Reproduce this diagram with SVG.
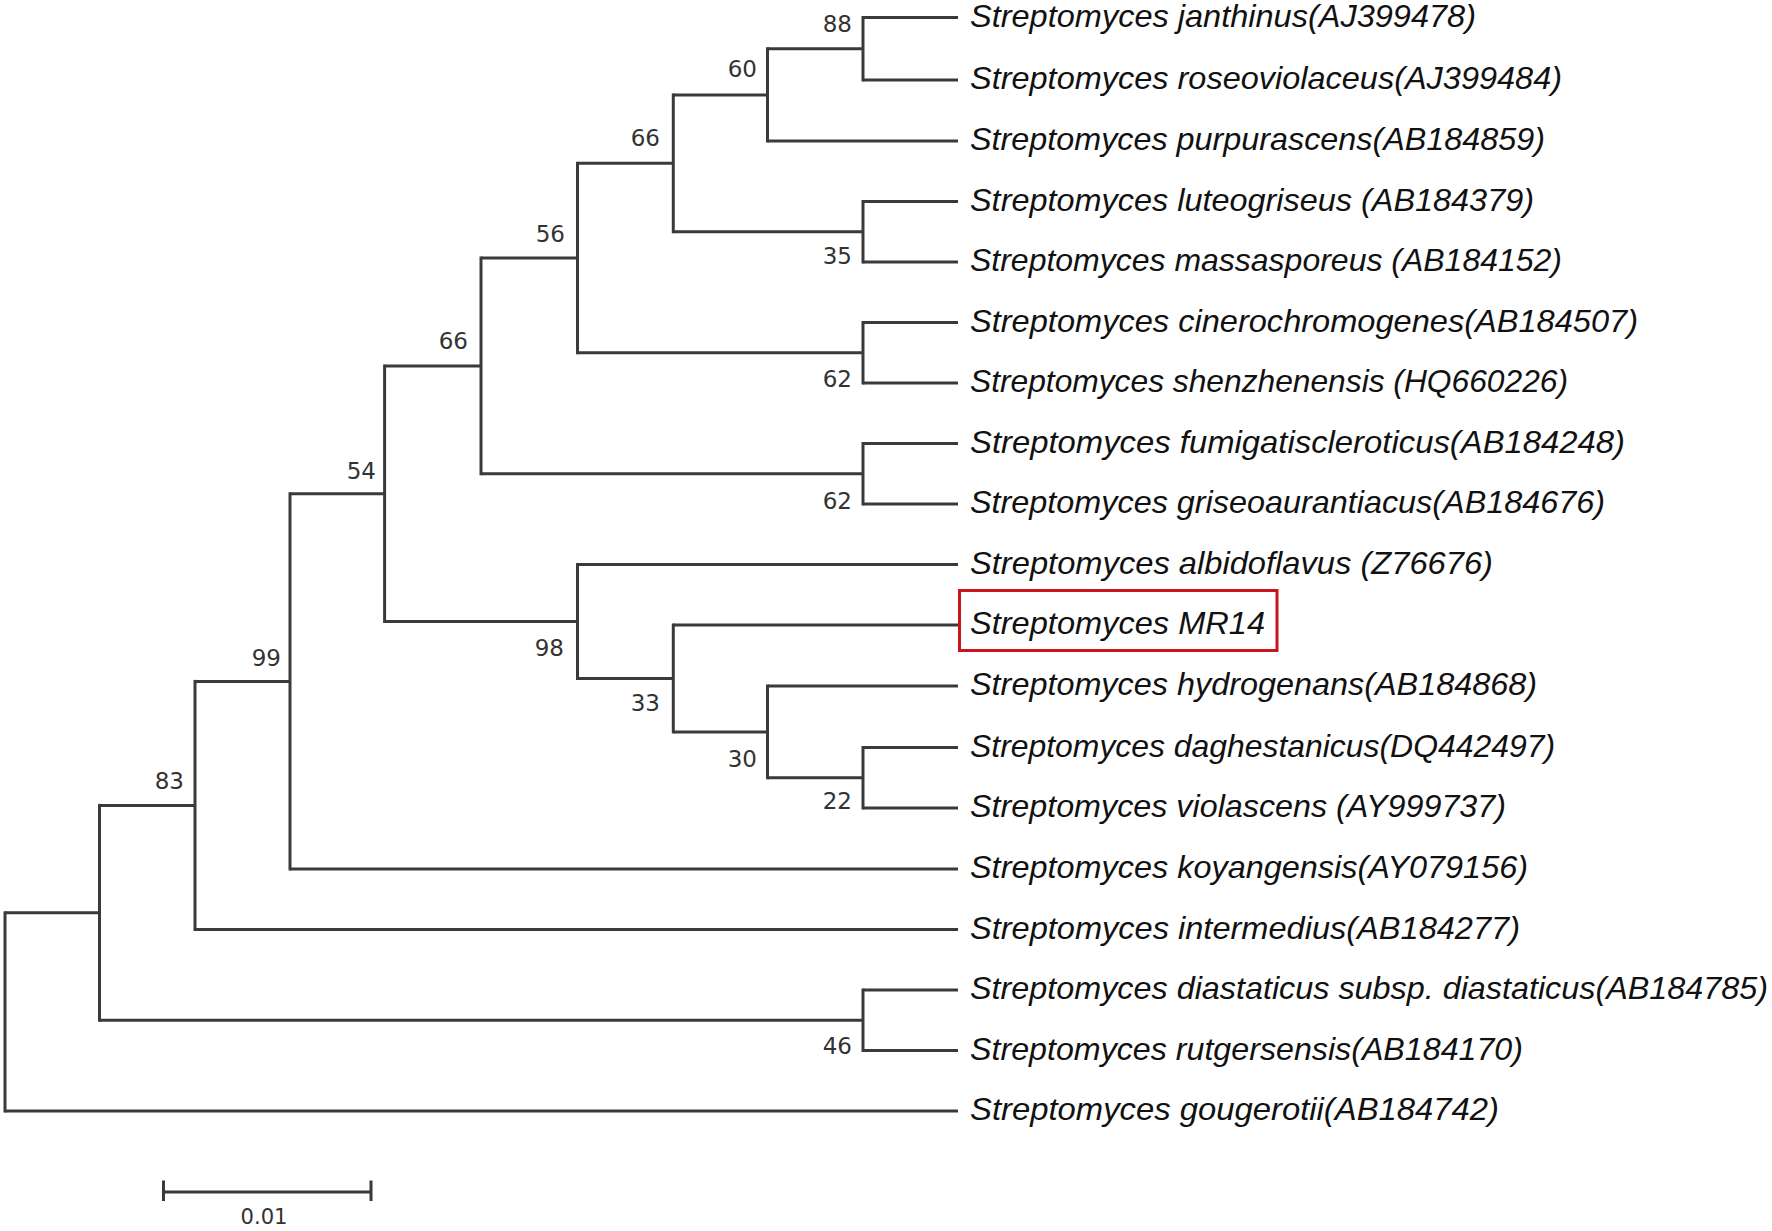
<svg xmlns="http://www.w3.org/2000/svg" width="1772" height="1231" viewBox="0 0 1772 1231">
<style>
.br{stroke:#3a3a3a;stroke-width:3;fill:none;stroke-linecap:butt}
.vb{stroke:#3a3a3a;stroke-width:3;fill:none;stroke-linecap:square}
.leaf{font-family:"Liberation Sans",Arial,sans-serif;font-style:italic;font-size:32px;fill:#111}
.bs{font-family:"DejaVu Sans",Verdana,sans-serif;font-size:23px;fill:#333;text-anchor:end}
</style>
<rect width="1772" height="1231" fill="#fff"/>
<g id="connectors">
<path class="br" d="M863 17.5H958M863 80H958M767.5 141H958M863 201.5H958M863 262H958M863 322.5H958M863 383H958M863 443.5H958M863 504H958M577.5 564.5H958M673.3 625H958M767.5 686H958M863 747.5H958M863 808H958M290 869H958M195 929.5H958M863 990H958M863 1050.5H958M5 1111H958"/>
<path class="br" d="M767.5 48.75H863M673.3 94.9H767.5M673.3 231.75H863M577.5 163.3H673.3M577.5 352.75H863M481 258H577.5M481 473.75H863M384.6 365.9H481M767.5 777.75H863M673.3 731.9H767.5M577.5 678.5H673.3M384.6 621.5H577.5M290 493.7H384.6M195 681.4H290M99.5 805.4H195M99.5 1020.25H863M5 912.8H99.5"/>
</g>
<g id="n88"><path class="vb" d="M863 17.5V80"/><text class="bs" x="852" y="32">88</text></g>
<g id="n60"><path class="vb" d="M767.5 48.75V141"/><text class="bs" x="757" y="77">60</text></g>
<g id="n35"><path class="vb" d="M863 201.5V262"/><text class="bs" x="852" y="264">35</text></g>
<g id="n66a"><path class="vb" d="M673.3 94.9V231.75"/><text class="bs" x="660" y="146">66</text></g>
<g id="n62a"><path class="vb" d="M863 322.5V383"/><text class="bs" x="852" y="387">62</text></g>
<g id="n56"><path class="vb" d="M577.5 163.3V352.75"/><text class="bs" x="565" y="242">56</text></g>
<g id="n62b"><path class="vb" d="M863 443.5V504"/><text class="bs" x="852" y="509">62</text></g>
<g id="n66b"><path class="vb" d="M481 258V473.75"/><text class="bs" x="468" y="349">66</text></g>
<g id="n22"><path class="vb" d="M863 747.5V808"/><text class="bs" x="852" y="809">22</text></g>
<g id="n30"><path class="vb" d="M767.5 686V777.75"/><text class="bs" x="757" y="767">30</text></g>
<g id="n33"><path class="vb" d="M673.3 625V731.9"/><text class="bs" x="660" y="711">33</text></g>
<g id="n98"><path class="vb" d="M577.5 564.5V678.5"/><text class="bs" x="564" y="656">98</text></g>
<g id="n54"><path class="vb" d="M384.6 365.9V621.5"/><text class="bs" x="376" y="479">54</text></g>
<g id="n99"><path class="vb" d="M290 493.7V869"/><text class="bs" x="281" y="666">99</text></g>
<g id="n83"><path class="vb" d="M195 681.4V929.5"/><text class="bs" x="184" y="789">83</text></g>
<g id="n46"><path class="vb" d="M863 990V1050.5"/><text class="bs" x="852" y="1054">46</text></g>
<g id="nr1"><path class="vb" d="M99.5 805.4V1020.25"/></g>
<g id="root"><path class="vb" d="M5 912.8V1111"/></g>
<g id="leaf1"><text class="leaf" x="970" y="26.5" textLength="506" lengthAdjust="spacingAndGlyphs">Streptomyces janthinus(AJ399478)</text></g>
<g id="leaf2"><text class="leaf" x="970" y="89" textLength="592" lengthAdjust="spacingAndGlyphs">Streptomyces roseoviolaceus(AJ399484)</text></g>
<g id="leaf3"><text class="leaf" x="970" y="150" textLength="575" lengthAdjust="spacingAndGlyphs">Streptomyces purpurascens(AB184859)</text></g>
<g id="leaf4"><text class="leaf" x="970" y="210.5" textLength="564" lengthAdjust="spacingAndGlyphs">Streptomyces luteogriseus (AB184379)</text></g>
<g id="leaf5"><text class="leaf" x="970" y="271" textLength="592" lengthAdjust="spacingAndGlyphs">Streptomyces massasporeus (AB184152)</text></g>
<g id="leaf6"><text class="leaf" x="970" y="331.5" textLength="668" lengthAdjust="spacingAndGlyphs">Streptomyces cinerochromogenes(AB184507)</text></g>
<g id="leaf7"><text class="leaf" x="970" y="392" textLength="598" lengthAdjust="spacingAndGlyphs">Streptomyces shenzhenensis (HQ660226)</text></g>
<g id="leaf8"><text class="leaf" x="970" y="452.5" textLength="655" lengthAdjust="spacingAndGlyphs">Streptomyces fumigatiscleroticus(AB184248)</text></g>
<g id="leaf9"><text class="leaf" x="970" y="513" textLength="635" lengthAdjust="spacingAndGlyphs">Streptomyces griseoaurantiacus(AB184676)</text></g>
<g id="leaf10"><text class="leaf" x="970" y="573.5" textLength="523" lengthAdjust="spacingAndGlyphs">Streptomyces albidoflavus (Z76676)</text></g>
<g id="leaf11"><rect x="959.5" y="590.5" width="317.5" height="60" fill="none" stroke="#c8141c" stroke-width="3"/><text class="leaf" x="970" y="634" textLength="295" lengthAdjust="spacingAndGlyphs">Streptomyces MR14</text></g>
<g id="leaf12"><text class="leaf" x="970" y="695" textLength="567" lengthAdjust="spacingAndGlyphs">Streptomyces hydrogenans(AB184868)</text></g>
<g id="leaf13"><text class="leaf" x="970" y="756.5" textLength="585" lengthAdjust="spacingAndGlyphs">Streptomyces daghestanicus(DQ442497)</text></g>
<g id="leaf14"><text class="leaf" x="970" y="817" textLength="536" lengthAdjust="spacingAndGlyphs">Streptomyces violascens (AY999737)</text></g>
<g id="leaf15"><text class="leaf" x="970" y="878" textLength="558" lengthAdjust="spacingAndGlyphs">Streptomyces koyangensis(AY079156)</text></g>
<g id="leaf16"><text class="leaf" x="970" y="938.5" textLength="550" lengthAdjust="spacingAndGlyphs">Streptomyces intermedius(AB184277)</text></g>
<g id="leaf17"><text class="leaf" x="970" y="999" textLength="798" lengthAdjust="spacingAndGlyphs">Streptomyces diastaticus subsp. diastaticus(AB184785)</text></g>
<g id="leaf18"><text class="leaf" x="970" y="1059.5" textLength="553" lengthAdjust="spacingAndGlyphs">Streptomyces rutgersensis(AB184170)</text></g>
<g id="leaf19"><text class="leaf" x="970" y="1120" textLength="529" lengthAdjust="spacingAndGlyphs">Streptomyces gougerotii(AB184742)</text></g>
<g id="scalebar">
<path class="br" d="M163.5 1192H371M163.5 1180.5V1201M371 1180.5V1201"/>
<text x="264" y="1224" font-family="'DejaVu Sans',Verdana,sans-serif" font-size="22" fill="#333" text-anchor="middle" textLength="47" lengthAdjust="spacingAndGlyphs">0.01</text>
</g>
</svg>
